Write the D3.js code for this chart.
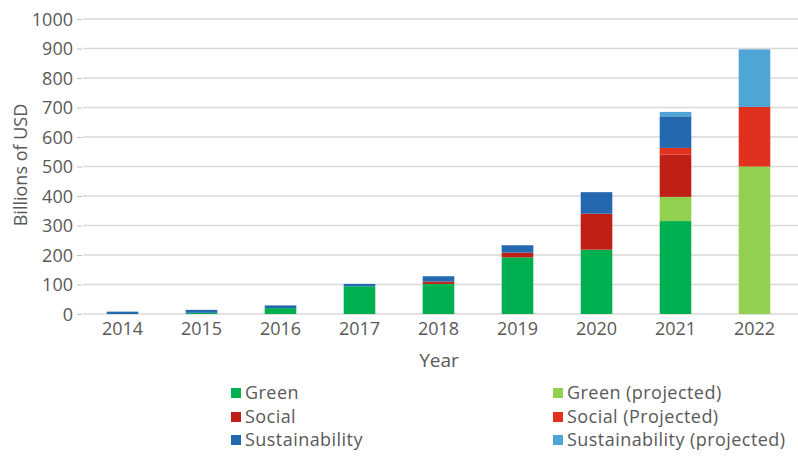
<!DOCTYPE html>
<html>
<head>
<meta charset="utf-8">
<script src="https://cdn.jsdelivr.net/npm/d3@7"></script>
<style>
  html, body { margin: 0; padding: 0; background: #fff; }
  text { font-family: "Open Sans", "Liberation Sans", sans-serif; fill: #595959; }
</style>
</head>
<body>
<svg id="chart" width="798" height="458"></svg>
<script>
const years = ["2014", "2015", "2016", "2017", "2018", "2019", "2020", "2021", "2022"];
const seriesNames = ["Green", "Green (projected)", "Social", "Social (Projected)", "Sustainability", "Sustainability (projected)"];
const seriesColors = ["#00b050", "#92d050", "#be2016", "#e0301e", "#2468b0", "#4ea5d6"];
const green          = [0, 4, 20, 94, 102, 192, 218, 315, 0];
const greenProj      = [0, 0, 0, 0, 0, 0, 0, 82, 500];
const social         = [0, 0, 0, 0, 8, 16, 122, 143, 0];
const socialProj     = [0, 0, 0, 0, 0, 0, 0, 23, 202];
const sustain        = [8, 10, 9, 8, 18, 25, 73, 107, 0];
const sustainProj    = [0, 0, 0, 0, 0, 0, 0, 15, 195];
const yTicks = [0, 100, 200, 300, 400, 500, 600, 700, 800, 900, 1000];

const seriesValues = [green, greenProj, social, socialProj, sustain, sustainProj];
const table = years.map((y, i) => {
  const row = { year: y };
  seriesNames.forEach((n, s) => row[n] = seriesValues[s][i]);
  return row;
});

const svg = d3.select("#chart");
const margin = { left: 83, right: 4, top: 19, bottom: 144 };
const W = 798, H = 458;
const x = d3.scaleBand().domain(years).range([margin.left, W - margin.right]).paddingInner(0.6).paddingOuter(0.3);
const y = d3.scaleLinear().domain([0, 1000]).range([H - margin.bottom, margin.top]);

// gridlines
svg.append("g").selectAll("line").data(yTicks).join("line")
  .attr("x1", margin.left).attr("x2", W)
  .attr("y1", d => y(d)).attr("y2", d => y(d))
  .attr("stroke", "#d9d9d9").attr("stroke-width", 1.3);

// y axis
const yAxis = svg.append("g").attr("transform", `translate(${margin.left - 1},0)`)
  .call(d3.axisLeft(y).tickValues(yTicks).tickFormat(d3.format("d")).tickSize(5).tickPadding(4));
yAxis.select(".domain").remove();
yAxis.selectAll(".tick line").attr("stroke", "#bfbfbf");
yAxis.selectAll(".tick text").style("font-size", "18px").attr("fill", "#595959").attr("dy", "0.34em");

// x axis
const xAxis = svg.append("g").attr("transform", `translate(0,${y(0)})`)
  .call(d3.axisBottom(x).tickSize(0).tickPadding(8));
xAxis.select(".domain").remove();
xAxis.selectAll(".tick text").style("font-size", "18px").attr("fill", "#595959").attr("dy", "0.71em");

// stacked bars
const stack = d3.stack().keys(seriesNames)(table);
svg.append("g").selectAll("g").data(stack).join("g")
  .attr("fill", (d, i) => seriesColors[i])
  .selectAll("rect").data(d => d).join("rect")
  .attr("x", d => x(d.data.year))
  .attr("width", x.bandwidth())
  .attr("y", d => y(d[1]))
  .attr("height", d => Math.max(0, y(d[0]) - y(d[1])));

// axis titles
svg.append("text").attr("x", 439).attr("y", 367).attr("text-anchor", "middle")
  .style("font-size", "19px").text("Year");
svg.append("text").attr("transform", "translate(27,165) rotate(-90)").attr("text-anchor", "middle")
  .style("font-size", "18px").text("Billions of USD");

// legend
const legX = [231, 553];
const legY = [393, 417, 440];
const leg = svg.append("g");
seriesNames.forEach((n, i) => {
  const col = i % 2, row = Math.floor(i / 2);
  const g = leg.append("g").attr("transform", `translate(${legX[col]},${legY[row]})`);
  g.append("rect").attr("x", 0).attr("y", -5).attr("width", 10).attr("height", 10).attr("fill", seriesColors[i]);
  g.append("text").attr("x", 14).attr("y", 0).attr("dy", "0.35em")
    .style("font-size", "18px").style("letter-spacing", "0.45px").text(n);
});
</script>
</body>
</html>
